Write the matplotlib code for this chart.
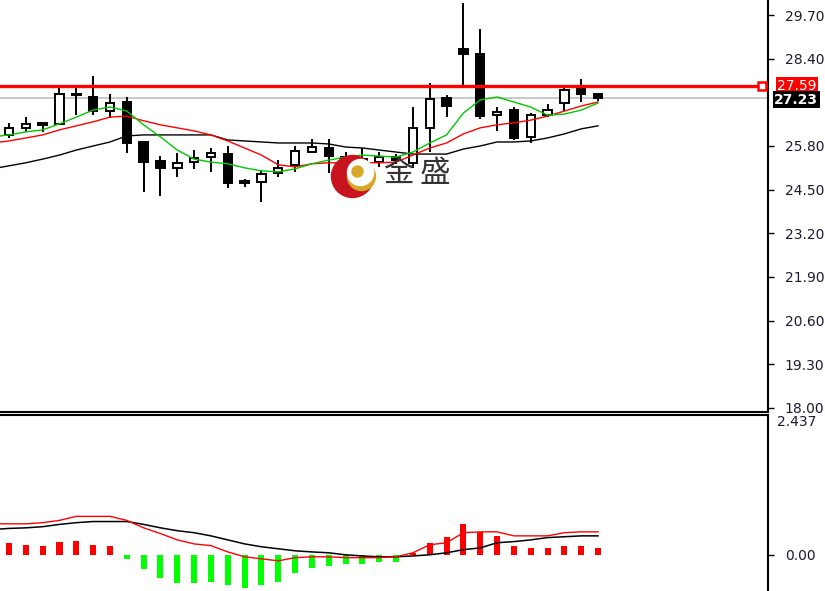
import numpy as np
import matplotlib
matplotlib.use("Agg")
import matplotlib.pyplot as plt
import matplotlib.transforms as mtransforms

# candles (open, high, low, close)
opens = [26.13, 26.34, 26.46, 26.46, 27.33, 27.26, 26.84, 27.11, 25.92, 25.35,
         25.15, 25.32, 25.47, 25.56, 24.72, 24.73, 25.00, 25.24, 25.62, 25.74,
         25.47, 25.41, 25.32, 25.47, 25.30, 26.34, 27.23, 28.69, 28.54, 26.72,
         26.87, 26.07, 26.72, 27.08, 27.50, 27.35]
highs = [26.49, 26.66, 26.47, 27.56, 27.53, 27.88, 27.35, 27.26, 25.92, 25.50,
         25.59, 25.68, 25.74, 25.80, 24.82, 25.09, 25.38, 25.80, 26.01, 26.01,
         25.62, 25.74, 25.62, 25.56, 26.96, 27.68, 27.32, 30.06, 29.28, 26.96,
         26.96, 26.78, 27.05, 27.56, 27.80, 27.38]
lows = [26.04, 26.22, 26.22, 26.46, 26.72, 26.72, 26.63, 25.59, 24.43, 24.31,
        24.88, 25.12, 25.03, 24.55, 24.58, 24.13, 24.88, 25.03, 25.59, 25.00,
        25.24, 25.30, 25.18, 25.27, 25.15, 25.62, 26.66, 27.62, 26.60, 26.25,
        25.98, 25.89, 26.66, 26.84, 27.11, 27.14]
closes = [26.34, 26.46, 26.42, 27.35, 27.31, 26.84, 27.08, 25.89, 25.32, 25.15,
          25.30, 25.44, 25.59, 24.70, 24.71, 24.97, 25.15, 25.65, 25.77, 25.50,
          25.38, 25.32, 25.47, 25.38, 26.34, 27.20, 26.99, 28.54, 26.69, 26.81,
          26.04, 26.72, 26.87, 27.47, 27.35, 27.23]

# moving averages, first value is the bar just left of the window
ma_fast = [26.07, 26.13, 26.22, 26.28, 26.46, 26.66, 26.87, 26.96, 26.84, 26.43,
           26.07, 25.68, 25.41, 25.32, 25.27, 25.15, 25.06, 25.03, 25.12, 25.27,
           25.38, 25.47, 25.53, 25.50, 25.47, 25.62, 25.89, 26.13, 26.78, 27.17,
           27.26, 27.11, 26.96, 26.72, 26.75, 26.87, 27.08]
ma_mid = [25.89, 25.95, 26.04, 26.13, 26.28, 26.40, 26.52, 26.66, 26.69, 26.55,
          26.43, 26.34, 26.25, 26.13, 25.95, 25.74, 25.53, 25.24, 25.18, 25.27,
          25.30, 25.30, 25.30, 25.30, 25.32, 25.53, 25.74, 25.89, 26.16, 26.34,
          26.43, 26.49, 26.57, 26.69, 26.84, 26.99, 27.11]
ma_slow = [25.12, 25.21, 25.30, 25.41, 25.53, 25.68, 25.80, 25.92, 26.10, 26.13,
           26.13, 26.13, 26.13, 26.13, 25.98, 25.95, 25.92, 25.89, 25.89, 25.89,
           25.86, 25.77, 25.74, 25.68, 25.62, 25.56, 25.56, 25.56, 25.71, 25.80,
           25.92, 25.92, 25.95, 26.04, 26.16, 26.31, 26.40]

# MACD panel
macd_hist = [0.21, 0.175, 0.16, 0.23, 0.245, 0.175, 0.16, -0.07, -0.245, -0.40,
             -0.49, -0.49, -0.47, -0.525, -0.58, -0.525, -0.47, -0.315, -0.23, -0.19,
             -0.16, -0.16, -0.12, -0.12, 0.035, 0.21, 0.315, 0.54, 0.40, 0.33,
             0.16, 0.12, 0.12, 0.16, 0.16, 0.12]
macd_red = [0.54, 0.54, 0.54, 0.56, 0.60, 0.67, 0.67, 0.67, 0.60, 0.47,
            0.37, 0.26, 0.19, 0.16, 0.05, -0.035, -0.07, -0.105, -0.05, -0.035,
            -0.035, -0.05, -0.05, -0.05, -0.035, 0.035, 0.175, 0.21, 0.385, 0.40,
            0.40, 0.33, 0.33, 0.33, 0.385, 0.40, 0.40]
macd_black = [0.44, 0.46, 0.47, 0.49, 0.53, 0.56, 0.58, 0.58, 0.58, 0.53,
              0.47, 0.42, 0.385, 0.33, 0.26, 0.19, 0.14, 0.105, 0.07, 0.05,
              0.035, 0.0, -0.02, -0.035, -0.035, -0.02, 0.0, 0.035, 0.09, 0.12,
              0.21, 0.23, 0.26, 0.30, 0.315, 0.33, 0.33]

price_ticks = [29.70, 28.40, 25.80, 24.50, 23.20, 21.90, 20.60, 19.30, 18.00]
alert_price = 27.59
last_price = 27.23
macd_max = 2.437

plt.rcParams['font.family'] = ['DejaVu Sans', 'Noto Sans CJK SC']

fig = plt.figure(figsize=(8.25, 5.91), dpi=100)
W, H = 825.0, 591.0
ax = fig.add_axes([0, 1 - 412 / H, 768 / W, 412 / H])
ax2 = fig.add_axes([0, 0, 768 / W, 176 / H])

x = np.arange(len(opens))
x_ma = np.arange(-1, len(opens))
xlim = (-0.535, 45.1)

# candles
for i in x:
    o, h, l, c = opens[i], highs[i], lows[i], closes[i]
    ax.vlines(i, l, h, color='black', lw=1.4, zorder=2)
    body = max(abs(c - o), 0.05)
    ax.bar(i, body, bottom=min(o, c), width=0.5,
           color='white' if c > o else 'black', edgecolor='black', lw=1.4, zorder=3)

ax.plot(x_ma, ma_slow, color='black', lw=1.0, zorder=4)
ax.plot(x_ma, ma_mid, color='#ff0000', lw=1.0, zorder=4)
ax.plot(x_ma, ma_fast, color='#00c800', lw=1.0, zorder=4)

ax.axhline(last_price, color='#c0c0c0', lw=1.2, zorder=1)
ax.axhline(alert_price, color='#ff0000', lw=2.4, zorder=5)
ax.plot([xlim[1] - 0.35], [alert_price], marker='s', ms=6, mfc='white', mec='#ff0000',
        mew=1.8, zorder=6, clip_on=False)

ax.set_xlim(*xlim)
ax.set_ylim(17.88, 30.147)
ax.yaxis.tick_right()
ax.set_yticks(price_ticks)
ax.set_yticklabels([f"{t:.2f}" for t in price_ticks])
ax.tick_params(axis='y', direction='out', length=4, width=1, pad=8,
               labelsize=10, labelcolor='#1a1a33')
ax.set_xticks([])
for s in ['left', 'top']:
    ax.spines[s].set_visible(False)
ax.spines['right'].set_linewidth(1.5)
ax.spines['bottom'].set_linewidth(1.5)

blend = mtransforms.blended_transform_factory(ax.transAxes, ax.transData)
ax.text(1.012, alert_price, f"{alert_price:.2f}", transform=blend, color='white',
        fontsize=10, va='center', ha='left', zorder=7,
        bbox=dict(facecolor='#ff0000', edgecolor='none', pad=1.2))
ax.text(1.008, last_price - 0.05, f"{last_price:.2f}", transform=blend, color='white',
        fontsize=10, va='center', ha='left', fontweight='bold', zorder=7,
        bbox=dict(facecolor='black', edgecolor='none', pad=1.0))

# watermark logo
ax.scatter([0.4583], [0.5728], s=914, color='#c8141e', transform=ax.transAxes, zorder=8)
ax.scatter([0.470], [0.5728], s=406, color='#d8a928', transform=ax.transAxes, zorder=8)
ax.scatter([0.46875], [0.5825], s=350, color='white', transform=ax.transAxes, zorder=8)
ax.scatter([0.4648], [0.585], s=63, color='#d8a928', transform=ax.transAxes, zorder=9)
ax.text(0.499, 0.578, "金", transform=ax.transAxes, fontsize=22, color='#333333',
        family=['Noto Sans CJK SC'], va='center', ha='left', zorder=9)
ax.text(0.547, 0.578, "盛", transform=ax.transAxes, fontsize=22, color='#333333',
        family=['Noto Sans CJK SC'], va='center', ha='left', zorder=9)

# MACD
bar_colors = ['#ff0000' if v >= 0 else '#00ff00' for v in macd_hist]
ax2.bar(x, macd_hist, width=0.36, color=bar_colors, zorder=2)
ax2.plot(x_ma, macd_black, color='black', lw=1.1, zorder=3)
ax2.plot(x_ma, macd_red, color='#ff0000', lw=1.0, zorder=3)
ax2.set_xlim(*xlim)
ax2.set_ylim(-0.631, macd_max)
ax2.yaxis.tick_right()
ax2.set_yticks([0.0])
ax2.set_yticklabels(["0.00"])
ax2.tick_params(axis='y', direction='out', length=4, width=1, pad=8,
                labelsize=10, labelcolor='#1a1a33')
ax2.set_xticks([])
ax2.text(1.012, 1.0, f"{macd_max:.3f}", transform=ax2.transAxes, fontsize=10,
         color='#1a1a33', va='top', ha='left')
for s in ['left', 'bottom']:
    ax2.spines[s].set_visible(False)
ax2.spines['right'].set_linewidth(1.5)
ax2.spines['top'].set_linewidth(1.5)

fig.savefig("out.png", dpi=100)
